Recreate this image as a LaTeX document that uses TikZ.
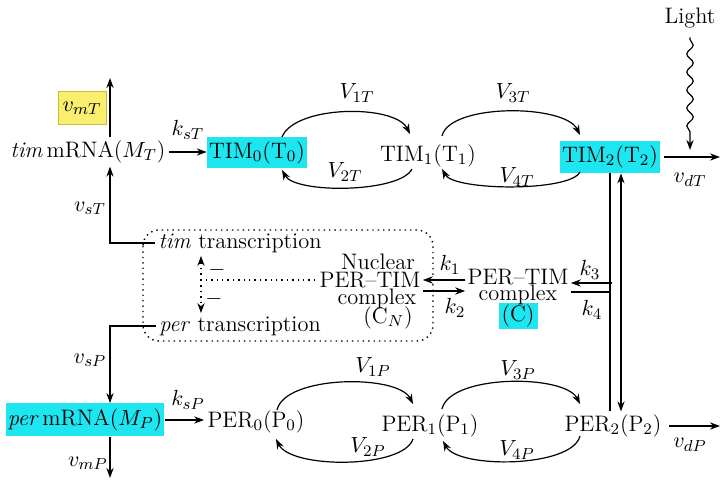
\documentclass[tikz,border=0pt]{standalone}
\usetikzlibrary{calc,arrows.meta,decorations.pathmorphing}
\definecolor{tcyan}{RGB}{30,230,240}
\definecolor{tyel}{RGB}{250,238,110}
\definecolor{tyelb}{RGB}{205,185,60}
\begin{document}
\begin{tikzpicture}[x=0.5pt,y=-0.5pt,
  font=\fontsize{11.2}{13}\selectfont,
  >={Stealth[length=5pt,width=3.6pt]},
  txt/.style={inner sep=1.5pt},
  tight/.style={inner sep=0pt},
  cbox/.style={fill=tcyan, inner sep=1pt},
  dots/.style={dotted, line width=0.7pt},
  wire/.style={line width=0.6pt}]
\useasboundingbox (0,0) rectangle (722,485);

% ---- nodes ----
\node[txt] (light) at (690,18) {Light};
\node[cbox, minimum width=44.5pt, minimum height=15.5pt] (T0) at (257,153) {TIM$_0$(T$_0$)};
\node[txt] (T1) at (428,156) {TIM$_1$(T$_1$)};
\node[cbox, minimum width=48.5pt, minimum height=16pt] (T2) at (610,157) {TIM$_2$(T$_2$)};
\node[txt] (MT) at (88,152) {\textit{tim}\,mRNA($M_T$)};
\node[fill=tyel, draw=tyelb, minimum width=24pt, minimum height=16.5pt, inner sep=1pt] (vmT) at (82,108) {$v_{mT}$};
\node[cbox, minimum width=77pt, minimum height=16.5pt] (MP) at (85,420) {\textit{per}\,mRNA($M_P$)};
\node[txt] (P0) at (256,422) {PER$_0$(P$_0$)};
\node[txt] (P1) at (430,426) {PER$_1$(P$_1$)};
\node[txt] (P2) at (613,426) {PER$_2$(P$_2$)};
\node[txt] (tt) at (240,243) {\textit{tim} transcription};
\node[txt] (pt) at (240,326) {\textit{per} transcription};
\node[tight] (nuc) at (378,262) {Nuclear};
\node[tight] (CN) at (370,280) {PER--TIM};
\node[tight] (cnx) at (377,299) {complex};
\node[tight] (cnl) at (388,318) {(C$_N$)};
\node[cbox, minimum width=19.5pt, minimum height=13pt] (Cc) at (518,316) {(C)};
\node[tight] (Cpt) at (518,277) {PER--TIM};
\node[tight] (Ccx) at (518,295) {complex};

% ---- labels ----
\node at (357,93) {$V_{1T}$};
\node at (513,93) {$V_{3T}$};
\node at (345,172) {$V_{2T}$};
\node at (517,177) {$V_{4T}$};
\node at (373,367) {$V_{1P}$};
\node at (518,370) {$V_{3P}$};
\node at (368,447) {$V_{2P}$};
\node at (517,450) {$V_{4P}$};
\node at (188,130) {$k_{sT}$};
\node at (188,400) {$k_{sP}$};
\node at (90,208) {$v_{sT}$};
\node at (90,360) {$v_{sP}$};
\node at (88,463) {$v_{mP}$};
\node at (690,180) {$v_{dT}$};
\node at (690,445) {$v_{dP}$};
\node at (450,265) {$k_1$};
\node at (455,308) {$k_2$};
\node at (590,270) {$k_3$};
\node at (592,310) {$k_4$};
\node at (217,270) {$-$};
\node at (214,299) {$-$};

% ---- coordinates ----
\coordinate (colM) at (110,0);
\coordinate (mtTop) at (110,78);
\coordinate (mpBot) at (110,478);
\coordinate (lightEnd) at (690,150);
\coordinate (vdTend) at (720,157);
\coordinate (vdPend) at (720,424);
\coordinate (dj) at (201,280);
\coordinate (k2y) at (0,291);
\coordinate (k3s) at (612,283);
\coordinate (k4e) at (611,292);

% ---- nuclear frame ----
\draw[dots, rounded corners=8pt] (143,230) rectangle (433,341);

% ---- connectors ----
\draw[wire,->, decorate, decoration={snake, amplitude=1.6pt, segment length=9pt, post length=6pt, pre length=1pt}]
  ([yshift=-3pt]light.south) -- (lightEnd);
\draw[wire,->] ([xshift=2pt]T2.east) -- (T2.east -| vdTend);
\draw[wire,->] ([xshift=2pt]P2.east) -- (P2.east -| vdPend);
\draw[wire,->] (MT.north -| colM) -- (mtTop);
\draw[wire,->] (tt.west) -- (tt.west -| colM) -- (MT.south -| colM);
\draw[wire,->] (pt.west) -- (pt.west -| colM) -- (MP.north -| colM);
\draw[wire,->] (MP.south -| colM) -- (mpBot);
\draw[wire,->] (MT.east) -- (MT.east -| T0.west);
\draw[wire,->] (MP.east) -- (MP.east -| P0.west);

% TIM cycle
\draw[wire,->] ($(T0.center)+(25,-16)$) .. controls +(13,-32) and +(-15,-30) .. ($(T1.center)+(-18,-22)$);
\draw[wire,->] ($(T1.center)+(-16,13)$) .. controls +(-12,24) and +(13,24) .. ($(T0.center)+(25,17)$);
\draw[wire,->] ($(T1.center)+(14,-20)$) .. controls +(8,-33) and +(-15,-31) .. ($(T2.center)+(-30,-22)$);
\draw[wire,->] ($(T2.center)+(-30,15)$) .. controls +(-10,20) and +(12,22) .. ($(T1.center)+(14,13)$);

% PER cycle
\draw[wire,->] ($(P0.center)+(21,-12)$) .. controls +(8,-35) and +(-15,-30) .. ($(P1.center)+(-17,-22)$);
\draw[wire,->] ($(P1.center)+(-17,13)$) .. controls +(-10,30) and +(15,30) .. ($(P0.center)+(20,17)$);
\draw[wire,->] ($(P1.center)+(12,-17)$) .. controls +(8,-35) and +(-15,-30) .. ($(P2.center)+(-33,-22)$);
\draw[wire,->] ($(P2.center)+(-33,10)$) .. controls +(-8,32) and +(15,28) .. ($(P1.center)+(13,15)$);

% complex formation / dissociation
\coordinate (rA) at ($(T2.south)+(11,0)$);
\draw[wire] (T2.south) -- (T2.south |- P2.north);
\draw[wire,<->] (rA) -- (rA |- P2.north);
\draw[wire,->] (k3s) -- ([xshift=1pt]k3s -| Cpt.east);
\draw[line width=1.2pt] ([xshift=1pt]k4e -| Cpt.east) -- (k4e);
\draw[wire,->] ([xshift=-1pt]Cpt.west |- CN.east) -- ([xshift=1pt]CN.east);
\draw[wire,->] ([xshift=1pt]CN.east |- k2y) -- ([xshift=-1pt]Cpt.west |- k2y);

% nuclear repression
\draw[dots] ([xshift=-2pt]CN.west) -- (dj);
\draw[dots,->] (dj) -- (dj |- tt.south);
\draw[dots,->] (dj) -- (dj |- pt.north);
\end{tikzpicture}
\end{document}
